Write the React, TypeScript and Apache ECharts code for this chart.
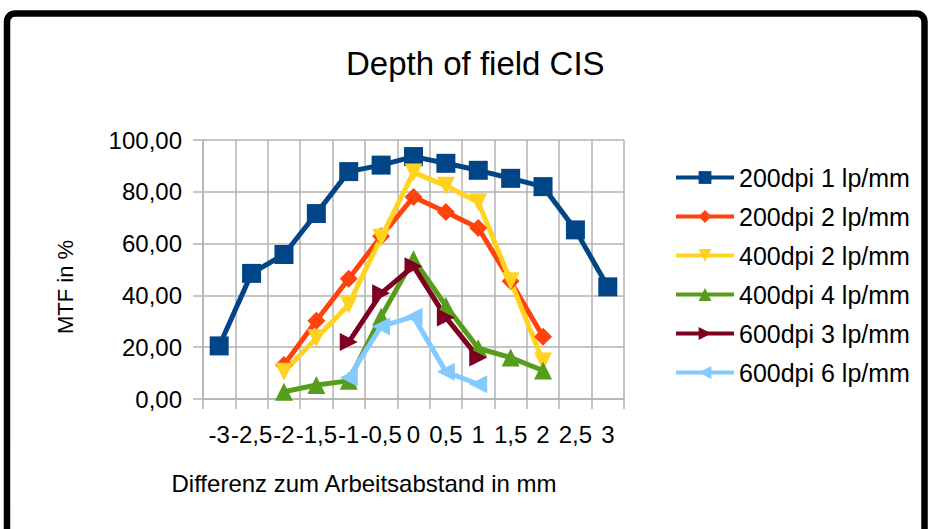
import React, { useEffect, useRef } from "react";
import * as echarts from "echarts";

const categories = ["-3", "-2,5", "-2", "-1,5", "-1", "-0,5", "0", "0,5", "1", "1,5", "2", "2,5", "3"];
const seriesNames = [
  "200dpi 1 lp/mm",
  "200dpi 2 lp/mm",
  "400dpi 2 lp/mm",
  "400dpi 4 lp/mm",
  "600dpi 3 lp/mm",
  "600dpi 6 lp/mm",
];
const s200dpi1 = [20.5, 48.5, 55.8, 71.6, 87.8, 90.3, 93.6, 91.0, 88.3, 85.2, 82.0, 65.3, 43.3];
const s200dpi2 = [null, null, 13.1, 30.2, 46.4, 62.8, 78.0, 72.2, 66.0, 45.5, 24.0, null, null];
const s400dpi2 = [null, null, 10.5, 23.5, 36.5, 62.3, 87.5, 82.3, 76.0, 45.5, 14.5, null, null];
const s400dpi4 = [null, null, 2.8, 5.4, 7.0, 31.8, 54.0, 36.0, 19.6, 16.0, 11.0, null, null];
const s600dpi3 = [null, null, null, null, 22.0, 40.8, 51.3, 31.5, 16.0, null, null, null, null];
const s600dpi6 = [null, null, null, null, 8.3, 28.0, 31.8, 10.5, 5.7, null, null, null, null];

const seriesData = [s200dpi1, s200dpi2, s400dpi2, s400dpi4, s600dpi3, s600dpi6];
const colors = ["#004586", "#ff420e", "#ffd320", "#579d1c", "#7e0021", "#83caff"];
const symbols = ["rect", "diamond", "triangle", "triangle", "triangle", "triangle"];
const rotations = [0, 0, 180, 0, -90, 90];
const symbolSizes = [19, 18, 18, 18, 18, 18];

const FONT = "'Liberation Sans', Arial, sans-serif";
const GRID = "#b3b3b3";

export default function App() {
  const ref = useRef<HTMLDivElement>(null);
  useEffect(() => {
    if (!ref.current) return;
    const chart = echarts.init(ref.current, null, { renderer: "svg" });
    chart.setOption({
      animation: false,
      backgroundColor: "#ffffff",
      textStyle: { fontFamily: FONT },
      title: {
        text: "Depth of field CIS",
        left: 346,
        top: 47,
        padding: 0,
        textStyle: { fontSize: 33, fontWeight: "normal", color: "#000", fontFamily: FONT },
      },
      graphic: [
        {
          type: "rect",
          z: -10,
          shape: { x: 7, y: 13.5, width: 917.5, height: 600, r: 8 },
          style: { fill: "none", stroke: "#000", lineWidth: 6.5 },
        },
      ],
      legend: {
        orient: "vertical",
        left: 669,
        top: 160,
        itemWidth: 58,
        itemHeight: 16,
        itemGap: 14,
        lineStyle: { width: 4 },
        textStyle: { fontSize: 25, color: "#000", fontFamily: FONT },
        data: seriesNames,
      },
      grid: { left: 203, top: 140, width: 421, height: 259, containLabel: false },
      xAxis: {
        type: "category",
        data: categories,
        boundaryGap: true,
        name: "Differenz zum Arbeitsabstand in mm",
        nameLocation: "middle",
        nameGap: 72,
        nameTextStyle: { fontSize: 24, color: "#000", fontFamily: FONT, padding: [0, 99, 0, 0] },
        axisLine: { show: true, lineStyle: { color: GRID, width: 1.5 } },
        axisTick: { show: true, length: 10, lineStyle: { color: GRID, width: 1.5 } },
        splitLine: { show: true, lineStyle: { color: GRID, width: 1.5 } },
        axisLabel: { interval: 0, hideOverlap: false, margin: 23, fontSize: 24, color: "#000", fontFamily: FONT },
      },
      yAxis: {
        type: "value",
        min: 0,
        max: 100,
        interval: 20,
        name: "MTF in %",
        nameLocation: "middle",
        nameRotate: 90,
        nameGap: 127,
        nameTextStyle: { fontSize: 22, color: "#000", fontFamily: FONT, padding: [0, 35, 0, 0] },
        axisLine: { show: true, lineStyle: { color: GRID, width: 1.5 } },
        axisTick: { show: true, length: 10, lineStyle: { color: GRID, width: 1.5 } },
        splitLine: { show: true, lineStyle: { color: GRID, width: 1.5 } },
        axisLabel: {
          margin: 21,
          fontSize: 24,
          color: "#000",
          fontFamily: FONT,
          formatter: (v: number) => v.toFixed(2).replace(".", ","),
        },
      },
      series: seriesNames.map((name, i) => ({
        name,
        type: "line",
        data: seriesData[i],
        symbol: symbols[i],
        symbolRotate: rotations[i],
        symbolSize: symbolSizes[i],
        showAllSymbol: true,
        connectNulls: false,
        lineStyle: { color: colors[i], width: 5 },
        itemStyle: { color: colors[i] },
        emphasis: { disabled: true },
      })),
    });
    return () => chart.dispose();
  }, []);
  return (
    <div
      ref={ref}
      style={{ position: "fixed", left: 0, top: 0, width: 928, height: 529, background: "#fff" }}
    />
  );
}
